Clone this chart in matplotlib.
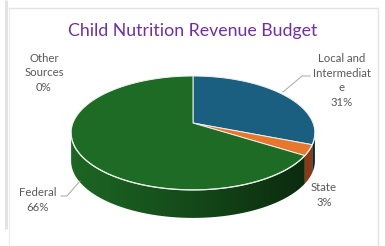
import numpy as np
import matplotlib
matplotlib.use("Agg")
import matplotlib.pyplot as plt
from matplotlib.patches import Polygon
from matplotlib.colors import to_rgb

# ---- data ----
title = "Child Nutrition Revenue Budget"
categories = ["Local and Intermediate", "State", "Federal", "Other Sources"]
values = [31, 3, 66, 0]
label_texts = ["Local and\nIntermediat\ne\n31%", "State\n3%", "Federal\n66%", "Other\nSources\n0%"]
top_colors = ["#1A5E80", "#E8772E", "#1E6B25", "#7F7F7F"]
side_colors = ["#1A5E80", "#8A3A14", "#1E6B25", "#7F7F7F"]

plt.rcParams['font.family'] = ['Lato', 'DejaVu Sans']

W, H = 385, 246
fig = plt.figure(figsize=(W / 100, H / 100), dpi=100)
ax = fig.add_axes([0, 0, 1, 1])
ax.set_xlim(0, W)
ax.set_ylim(H, 0)
ax.axis("off")

# chart frame
ax.plot([6, 6], [0, 229], color="#e3e3e3", lw=2.2, solid_capstyle="butt")
ax.plot([8.5, 377.5, 377.5], [7.5, 7.5, 246], color="#e3e3e3", lw=1.0)
ax.plot([8.5, 8.5], [7.5, 246], color="#ececec", lw=0.8)

# pseudo-3D projection
cx, cy = 193.0, 123.0
R, r, p = 120.0, 55.2, 0.175
depth = 28.0


def proj(theta, drop=0.0):
    t = np.radians(theta)
    k = 1.0 / (1.0 + p * np.sin(t))
    return cx + R * np.cos(t) * k, cy - r * np.sin(t) * k + drop


total = float(sum(values))
starts, ends = [], []
a = 90.0
for v in values:
    starts.append(a)
    a = a - 360.0 * v / total
    ends.append(a)

vis_lo = -180 + np.degrees(np.arcsin(p))
vis_hi = -np.degrees(np.arcsin(p))

xg = np.linspace(60, 330, 300)
fgrad = 0.95 - 0.58 * np.clip((xg - 71) / (315 - 71), 0, 1) ** 1.1

# sides
for i, v in enumerate(values):
    if v <= 0:
        continue
    s, e = starts[i], ends[i]
    for off in (0, -360, 360):
        a0 = max(e + off, vis_lo)
        a1 = min(s + off, vis_hi)
        if a1 > a0:
            th = np.linspace(a1, a0, 100)
            xs, ys = proj(th)
            pts = list(zip(xs, ys)) + list(zip(xs[::-1], ys[::-1] + depth))
            poly = Polygon(pts, closed=True, facecolor="none", edgecolor="none")
            ax.add_patch(poly)
            base = np.array(to_rgb(side_colors[i]))
            if i == 1:
                img = np.tile(base, (2, len(xg), 1))
            else:
                img = np.clip(base[None, None, :] * fgrad[None, :, None], 0, 1)
                img = np.repeat(img, 2, axis=0)
            im = ax.imshow(img, extent=(xg[0], xg[-1], 230, 80), aspect="auto",
                           interpolation="bilinear", zorder=1)
            im.set_clip_path(poly)

# tops
for i, v in enumerate(values):
    if v <= 0:
        continue
    th = np.linspace(starts[i], ends[i], 200)
    xs, ys = proj(th)
    pts = [(cx, cy)] + list(zip(xs, ys))
    ax.add_patch(Polygon(pts, closed=True, facecolor=top_colors[i],
                         edgecolor="#f0f0f0", lw=0.7, joinstyle="round", zorder=2))

# front rim highlight
th = np.linspace(vis_lo, vis_hi, 200)
xs, ys = proj(th)
ax.plot(xs, ys, color="#e8efe8", lw=0.9, zorder=3)

ax.set_xlim(0, W)
ax.set_ylim(H, 0)

# labels
lab_col = "#595959"
fs = 8.2
ls = 1.38
ax.text(193, 31, title, ha="center", va="center", fontsize=12.8, color="#7030A0")
ax.text(44, 73, label_texts[3], ha="center", va="center", fontsize=fs, color=lab_col, linespacing=ls)
ax.text(342, 80.5, label_texts[0], ha="center", va="center", fontsize=fs, color=lab_col, linespacing=ls)
ax.text(324, 195, label_texts[1], ha="center", va="center", fontsize=fs, color=lab_col, linespacing=ls)
ax.text(38, 200, label_texts[2], ha="center", va="center", fontsize=fs, color=lab_col, linespacing=ls)

# leader lines
ax.plot([283, 302, 310], [92, 76, 76], color="#a6a6a6", lw=0.7)
ax.plot([80, 67, 61], [181, 196, 196], color="#a6a6a6", lw=0.7)

fig.savefig("out.png", dpi=100)
